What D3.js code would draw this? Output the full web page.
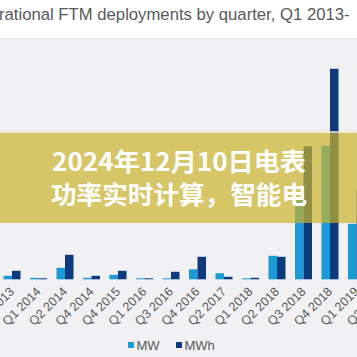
<!DOCTYPE html>
<html><head><meta charset="utf-8">
<script src="https://cdn.jsdelivr.net/npm/d3@7"></script>
<style>
html,body{margin:0;padding:0;background:#fff;}
svg{display:block;}
</style></head>
<body>
<svg id="c" width="357" height="357"></svg>
<script>
const title = "rational FTM deployments by quarter, Q1 2013-";
const categories = ["Q4 2013","Q1 2014","Q2 2014","Q4 2014","Q4 2015","Q1 2016","Q3 2016","Q4 2016","Q2 2017","Q1 2018","Q2 2018","Q3 2018","Q4 2018","Q1 2019","Q2 2019"];
const seriesNames = ["MW","MWh"];
const mwValues  = [7, 3, 23, 3, 9, 2, 2, 20, 12, 2, 47, 164, 267, 111, 60];
const mwhValues = [17, 2, 49, 7, 17, 2, 15, 45, 5, 3, 45, 266, 421, 178, 120];
const bannerLines = ["2024年12月10日电表","功率实时计算，智能电"];

const W = 357, H = 357;
const svg = d3.select("#c");
const font = "'Liberation Sans', Arial, sans-serif";

// backgrounds
svg.append("rect").attr("x",0).attr("y",0).attr("width",W).attr("height",38).attr("fill","#ffffff");
svg.append("rect").attr("x",0).attr("y",38).attr("width",W).attr("height",H-38).attr("fill","#f1f0f2");
svg.append("line").attr("x1",0).attr("x2",W).attr("y1",38.5).attr("y2",38.5).attr("stroke","#e4e3e6").attr("stroke-width",1);

svg.append("text").attr("x",-1).attr("y",19.5)
  .attr("font-family",font).attr("font-size",16.7).attr("fill","#58595b")
  .text(title);

const colors = d3.scaleOrdinal().domain(seriesNames).range(["#1a9ad6","#0d3a7c"]);

const step = 26.5;
const x0 = d3.scaleBand().domain(categories)
  .range([12 - step/2, 12 - step/2 + step*categories.length])
  .paddingInner(0.358).paddingOuter(0.179);
const x1 = d3.scaleBand().domain(seriesNames).range([0, x0.bandwidth()]).padding(0);
const y = d3.scaleLinear().domain([0, 450]).range([279.3, 279.3 - 225]);

const rows = categories.map((c,i)=>({cat:c, MW:mwValues[i], MWh:mwhValues[i]}));

const g = svg.append("g");
g.selectAll("g.grp").data(rows).join("g").attr("class","grp")
  .attr("transform", d=>`translate(${x0(d.cat)},0)`)
  .selectAll("rect").data(d=>seriesNames.map(k=>({k, v:d[k]}))).join("rect")
  .attr("x", d=>x1(d.k)).attr("width", x1.bandwidth())
  .attr("y", d=>y(d.v)).attr("height", d=>y(0)-y(d.v))
  .attr("fill", d=>colors(d.k));

// x axis labels
const xAxis = d3.axisBottom(x0).tickSize(0).tickPadding(0);
const ax = svg.append("g").attr("transform","translate(0,279.3)").call(xAxis);
ax.select(".domain").remove();
ax.selectAll("text")
  .attr("font-family",font).attr("font-size",12.5).attr("fill","#58595b")
  .attr("text-anchor","end").attr("dy",null).attr("y",null)
  .attr("transform","translate(3,13) rotate(-45)");

// legend
const leg = svg.append("g");
const legItems = [{k:"MW",x:128},{k:"MWh",x:176}];
legItems.forEach(it=>{
  leg.append("rect").attr("x",it.x).attr("y",342).attr("width",6).attr("height",6).attr("fill",colors(it.k));
  leg.append("text").attr("x",it.x+8.5).attr("y",349.5).attr("font-family",font).attr("font-size",13).attr("fill","#58595b").text(it.k);
});

// banner overlay
svg.append("rect").attr("x",0).attr("y",133).attr("width",W).attr("height",90)
  .attr("fill","rgb(202,180,44)").attr("fill-opacity",0.7);
svg.append("rect").attr("x",0).attr("y",131).attr("width",W).attr("height",2)
  .attr("fill","rgb(240,232,200)").attr("fill-opacity",0.8);
const bl = [{t:bannerLines[0], y:171, w:254},{t:bannerLines[1], y:204, w:256}];
bl.forEach(b=>{
  svg.append("text").attr("x",179).attr("y",b.y).attr("text-anchor","middle")
    .attr("font-family","'Noto Sans CJK SC', sans-serif").attr("font-weight",700)
    .attr("font-size",25).attr("fill","#ffffff")
    .attr("textLength",b.w).attr("lengthAdjust","spacingAndGlyphs")
    .text(b.t);
});
</script>
</body></html>
